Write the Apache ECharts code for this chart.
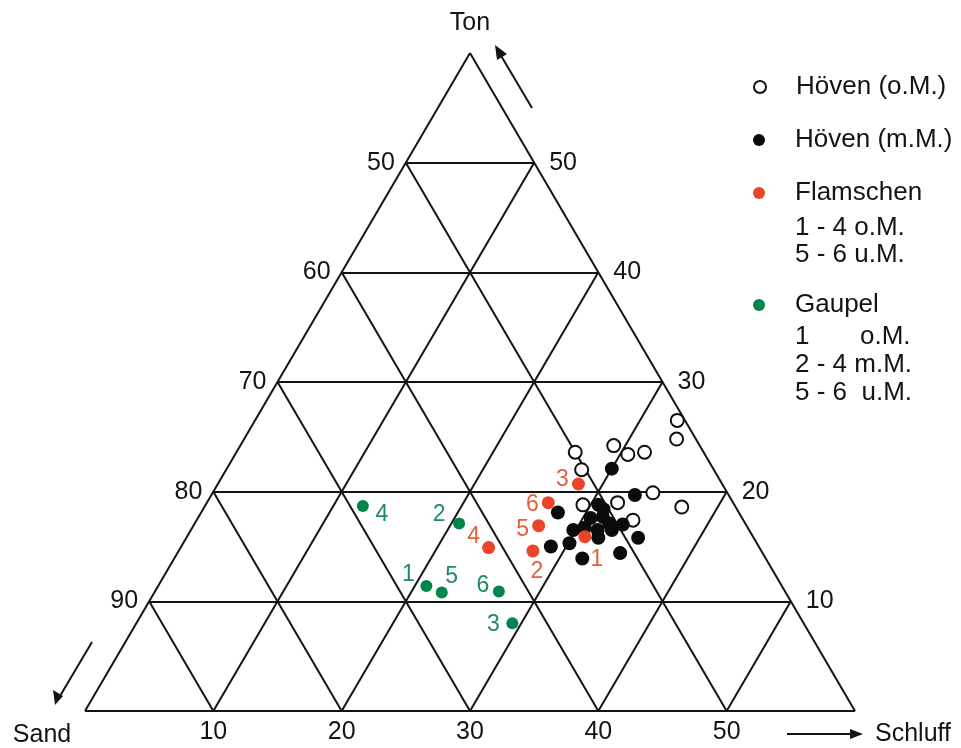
<!DOCTYPE html>
<html>
<head>
<meta charset="utf-8">
<script src="https://cdn.jsdelivr.net/npm/echarts@6/dist/echarts.min.js"></script>
<style>
  html, body { margin: 0; padding: 0; background: #fff; }
  #chart { width: 961px; height: 748px; }
</style>
</head>
<body>
<div id="chart"></div>
<script>
// ternary tick values (the diagram shows only the part with Sand >= 40 %)
const tonTicks = [10, 20, 30, 40, 50]
const sandTicks = [50, 60, 70, 80, 90]
const schluffTicks = [10, 20, 30, 40, 50]
const RANGE = 60 // 100 - minimal sand

// samples: Schluff % and Ton % (Sand = rest)
const hoevenOM_schluff = [32.9, 33.7, 26.4, 27.7, 29.1, 30.6, 31.8, 34.3, 37.2, 29.4, 32.0, 34.0]
const hoevenOM_ton     = [26.5, 24.8, 23.6, 22.0, 24.2, 23.4, 23.6, 19.9, 18.6, 18.8, 19.0, 17.4]

const hoevenMM_schluff = [30.0, 33.0, 27.8, 30.6, 30.6, 31.5, 32.3, 33.4, 30.6, 31.7, 32.8, 29.8, 32.1, 35.2, 30.1, 28.8, 31.8, 34.5, 31.2]
const hoevenMM_ton     = [22.1, 19.7, 18.1, 18.8, 17.6, 17.7, 17.1, 17.0, 16.7, 16.5, 16.5, 16.5, 15.8, 15.8, 15.3, 15.0, 13.9, 14.4, 18.4]

const flamschen_names   = ['1', '2', '3', '4', '5', '6']
const flamschen_schluff = [31.0, 27.6, 28.1, 24.0, 26.9, 26.6]
const flamschen_ton     = [15.9, 14.6, 20.7, 14.9, 16.9, 19.0]

const gaupel_names   = ['1', '2', '3', '4', '5', '6']
const gaupel_schluff = [20.9, 20.6, 29.3, 12.3, 22.4, 26.8]
const gaupel_ton     = [11.4, 17.1, 8.0, 18.7, 10.8, 10.9]

// label placement (pixel offsets from the dot)
const flamschenLabelOffset = [[12, 23], [4, 21], [-16, -4], [-15, -11], [-16, 4], [-16, 2]]
const gaupelLabelOffset = [[-18, -11], [-20, -9], [-19, 1], [19, 9], [10, -16], [-16, -6]]

const FONT = "'Liberation Sans', Arial, sans-serif"
const INK = '#141414'

// ternary -> cartesian (x along bottom edge, y = Ton)
const xy = (schluff, ton) => [schluff + ton / 2, ton]

const seg = (a, b) => ({ coords: [xy(a[0], a[1]), xy(b[0], b[1])] })
const gridSegs = [
  seg([0, 0], [RANGE, 0]), seg([0, 0], [0, RANGE]), seg([RANGE, 0], [0, RANGE]),
  ...tonTicks.map(t => seg([0, t], [RANGE - t, t])),
  ...schluffTicks.map(s => seg([s, 0], [s, RANGE - s])),
  ...sandTicks.map(d => seg([100 - d, 0], [0, 100 - d])),
]

const pts = (sch, ton, names, offs) => sch.map((s, i) => {
  const p = { value: xy(s, ton[i]) }
  if (names) {
    p.name = names[i]
    p.label = { offset: offs[i] }
  }
  return p
})

const edgeLabel = (pos, dist) => ({
  show: true, position: pos, distance: dist,
  formatter: p => p.name, fontSize: 25, color: INK, fontFamily: FONT,
})

const chart = echarts.init(document.getElementById('chart'))
const legendBase = {
  left: 753, padding: 0, itemWidth: 12, itemHeight: 12, selectedMode: false,
  icon: 'circle',
  textStyle: { fontSize: 26, color: INK, fontFamily: FONT, padding: [0, 0, 0, 25] },
}
chart.setOption({
  animation: false,
  backgroundColor: '#fff',
  grid: { left: 85, right: 106, top: 53, bottom: 37 },
  xAxis: {
    type: 'value', min: 0, max: RANGE, interval: 10,
    axisLine: { show: false }, axisTick: { show: false }, splitLine: { show: false },
    axisLabel: {
      margin: 9, fontSize: 25, color: INK, fontFamily: FONT,
      formatter: v => schluffTicks.includes(v) ? String(v) : '',
    },
  },
  yAxis: { type: 'value', min: 0, max: RANGE, show: false },
  legend: [
    { ...legendBase, top: 74, data: ['Höven (o.M.)'] },
    { ...legendBase, top: 127, data: ['Höven (m.M.)'] },
    { ...legendBase, top: 180, data: ['Flamschen'] },
    { ...legendBase, top: 292, data: ['Gaupel'] },
  ],
  series: [
    {
      type: 'lines', coordinateSystem: 'cartesian2d', silent: true,
      lineStyle: { color: INK, width: 2, opacity: 1 },
      data: gridSegs, z: 1,
    },
    {
      type: 'scatter', symbolSize: 0, silent: true, itemStyle: { opacity: 1 },
      label: edgeLabel('left', 11),
      data: sandTicks.map(d => ({ name: String(d), value: xy(0, 100 - d) })),
    },
    {
      type: 'scatter', symbolSize: 0, silent: true, itemStyle: { opacity: 1 },
      label: edgeLabel('right', 15),
      data: tonTicks.map(t => ({ name: String(t), value: xy(RANGE - t, t) })),
    },
    {
      name: 'Höven (o.M.)', type: 'scatter', symbol: 'circle', symbolSize: 13, z: 3,
      itemStyle: { color: '#fff', borderColor: '#111', borderWidth: 2, opacity: 1 },
      data: pts(hoevenOM_schluff, hoevenOM_ton),
    },
    {
      name: 'Höven (m.M.)', type: 'scatter', symbol: 'circle', symbolSize: 14, z: 4,
      itemStyle: { color: '#0b0b0b', opacity: 1 },
      data: pts(hoevenMM_schluff, hoevenMM_ton),
    },
    {
      name: 'Flamschen', type: 'scatter', symbol: 'circle', symbolSize: 13, z: 5,
      itemStyle: { color: '#ea4429', opacity: 1 },
      label: { show: true, position: 'inside', formatter: p => p.name, fontSize: 23, color: '#e4603f', fontFamily: FONT },
      data: pts(flamschen_schluff, flamschen_ton, flamschen_names, flamschenLabelOffset),
    },
    {
      name: 'Gaupel', type: 'scatter', symbol: 'circle', symbolSize: 12, z: 5,
      itemStyle: { color: '#00864d', opacity: 1 },
      label: { show: true, position: 'inside', formatter: p => p.name, fontSize: 23, color: '#1f8c5c', fontFamily: FONT },
      data: pts(gaupel_schluff, gaupel_ton, gaupel_names, gaupelLabelOffset),
    },
  ],
  graphic: [
    // axis names and direction arrows
    { type: 'text', x: 470, y: 23, style: { text: 'Ton', font: `25px ${FONT}`, fill: INK, align: 'center', verticalAlign: 'middle' } },
    { type: 'text', x: 42, y: 735, style: { text: 'Sand', font: `25px ${FONT}`, fill: INK, align: 'center', verticalAlign: 'middle' } },
    { type: 'text', x: 875, y: 734, style: { text: 'Schluff', font: `25px ${FONT}`, fill: INK, align: 'left', verticalAlign: 'middle' } },
    { type: 'line', shape: { x1: 532, y1: 108, x2: 500, y2: 54 }, style: { stroke: INK, lineWidth: 2 } },
    { type: 'polygon', shape: { points: [[495, 45], [497, 60], [507, 54]] }, style: { fill: INK } },
    { type: 'line', shape: { x1: 92, y1: 642, x2: 60, y2: 696 }, style: { stroke: INK, lineWidth: 2 } },
    { type: 'polygon', shape: { points: [[55, 705], [53, 690], [63, 696]] }, style: { fill: INK } },
    { type: 'line', shape: { x1: 787, y1: 734, x2: 852, y2: 734 }, style: { stroke: INK, lineWidth: 2 } },
    { type: 'polygon', shape: { points: [[863, 734], [850, 729], [850, 739]] }, style: { fill: INK } },
    // legend sub lines
    { type: 'text', x: 795, y: 228, style: { text: '1 - 4 o.M.', font: `26px ${FONT}`, fill: INK, verticalAlign: 'middle' } },
    { type: 'text', x: 795, y: 255, style: { text: '5 - 6 u.M.', font: `26px ${FONT}`, fill: INK, verticalAlign: 'middle' } },
    { type: 'text', x: 795, y: 337, style: { text: '1       o.M.', font: `26px ${FONT}`, fill: INK, verticalAlign: 'middle' } },
    { type: 'text', x: 795, y: 365, style: { text: '2 - 4 m.M.', font: `26px ${FONT}`, fill: INK, verticalAlign: 'middle' } },
    { type: 'text', x: 795, y: 393, style: { text: '5 - 6  u.M.', font: `26px ${FONT}`, fill: INK, verticalAlign: 'middle' } },
  ],
})
</script>
</body>
</html>
